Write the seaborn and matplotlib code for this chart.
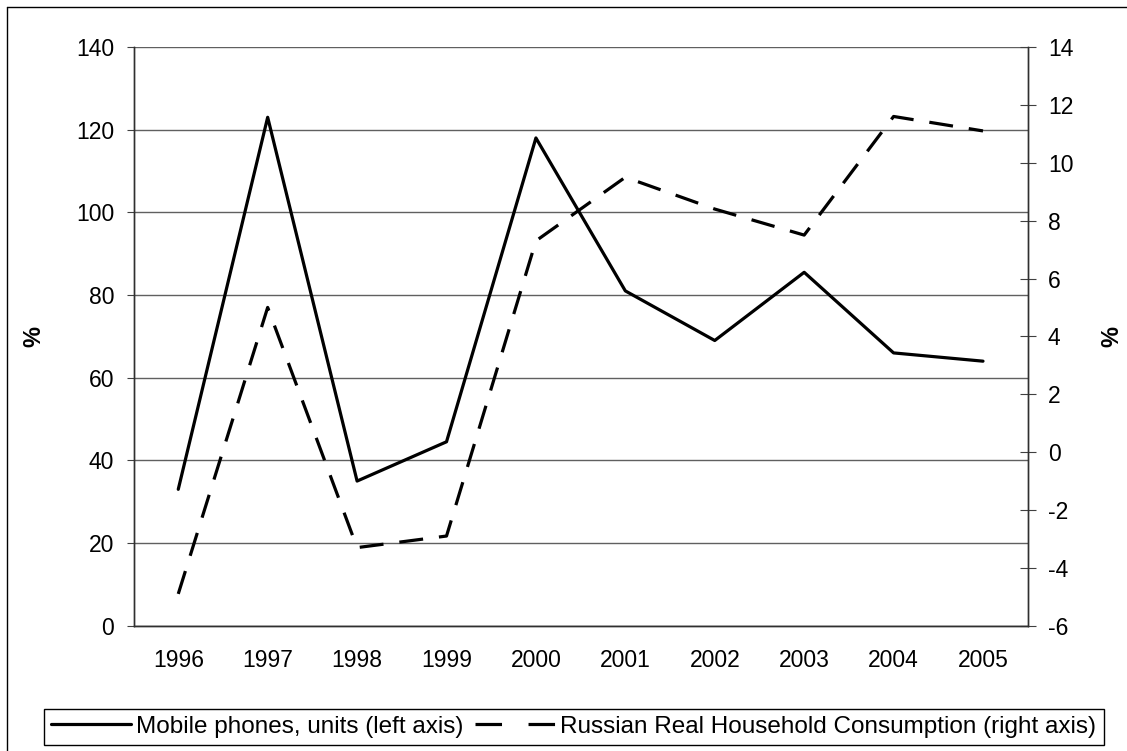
import numpy as np
import pandas as pd
import matplotlib
matplotlib.use("Agg")
import matplotlib.pyplot as plt
from matplotlib.lines import Line2D
from matplotlib.ticker import MultipleLocator, FixedLocator
import seaborn as sns

years = ["1996", "1997", "1998", "1999", "2000", "2001", "2002", "2003", "2004", "2005"]
mobile_phones = [33, 123, 35, 44.5, 118, 81, 69, 85.5, 66, 64]
consumption = [-4.9, 5.0, -3.3, -2.9, 7.3, 9.5, 8.4, 7.5, 11.6, 11.1]

label_left = "Mobile phones, units (left axis)"
label_right = "Russian Real Household Consumption (right axis)"

sns.set_style("white")
plt.rcParams['font.family'] = ['Liberation Sans', 'DejaVu Sans']
plt.rcParams['axes.unicode_minus'] = False
plt.rcParams['text.color'] = 'black'
plt.rcParams['xtick.color'] = 'black'
plt.rcParams['ytick.color'] = 'black'
plt.rcParams['axes.labelcolor'] = 'black'

df = pd.DataFrame({"idx": np.arange(len(years)), "mobile": mobile_phones, "cons": consumption})

fig = plt.figure(figsize=(11.27, 7.51), dpi=100)
ax = fig.add_axes([0.1185, 0.1668, 0.7934, 0.7706])
ax2 = ax.twinx()

# left axis: mobile phones
sns.lineplot(data=df, x="idx", y="mobile", ax=ax, color="black", linewidth=2.3)
ax.set_ylim(0, 140)
ax.yaxis.set_major_locator(MultipleLocator(20))
ax.grid(axis="y", color="#606060", linewidth=1.0)
ax.set_axisbelow(True)

# right axis: consumption (dashed)
sns.lineplot(data=df, x="idx", y="cons", ax=ax2, color="black", linewidth=2.3,
             linestyle=(0, (7.5, 5)))
ax2.set_ylim(-6, 14)
ax2.yaxis.set_major_locator(MultipleLocator(2))

ax.set_xlim(-0.5, len(years) - 0.5)
ax.set_xticks(np.arange(len(years)))
ax.set_xticklabels(years)
ax.xaxis.set_minor_locator(FixedLocator(np.arange(-0.5, len(years), 1.0)))
ax.tick_params(axis="x", which="major", length=0, pad=17, labelsize=16.5)
ax.tick_params(axis="x", which="minor", length=5, direction="out", color="#404040", width=1)
ax.tick_params(axis="y", length=5, direction="out", pad=9, labelsize=16.5, color="#404040")
ax2.tick_params(axis="y", length=11, direction="inout", pad=9, labelsize=16.5, color="#404040")

for a in (ax, ax2):
    a.set_xlabel("")
    for s in a.spines.values():
        s.set_color("#303030")
        s.set_linewidth(1.0)
    a.spines["top"].set_visible(False)

ax.set_ylabel("%", fontsize=17, fontweight="bold")
ax.yaxis.set_label_coords(-0.099, 0.5)
ax2.set_ylabel("%", fontsize=17, fontweight="bold", rotation=90)
ax2.yaxis.set_label_coords(1.081, 0.5)

handles = [Line2D([], [], color="black", linewidth=2.3),
           Line2D([], [], color="black", linewidth=2.3, linestyle=(0, (8.3, 8.3)))]
leg = fig.legend(handles, [label_left, label_right], loc="center", ncol=2,
                 bbox_to_anchor=(0.509, 0.032), fontsize=17.5, frameon=True,
                 fancybox=False, edgecolor="black", framealpha=1,
                 handlelength=3.3, handletextpad=0.2, columnspacing=0.5,
                 borderpad=0.3, borderaxespad=0)
leg.get_frame().set_linewidth(1.0)

# outer chart border
fig.add_artist(Line2D([0.0062, 1.0], [0.9907, 0.9907], color="black", linewidth=1.0))
fig.add_artist(Line2D([0.0062, 0.0062], [0.0, 0.9907], color="black", linewidth=1.0))

fig.savefig("out.png", dpi=100)
